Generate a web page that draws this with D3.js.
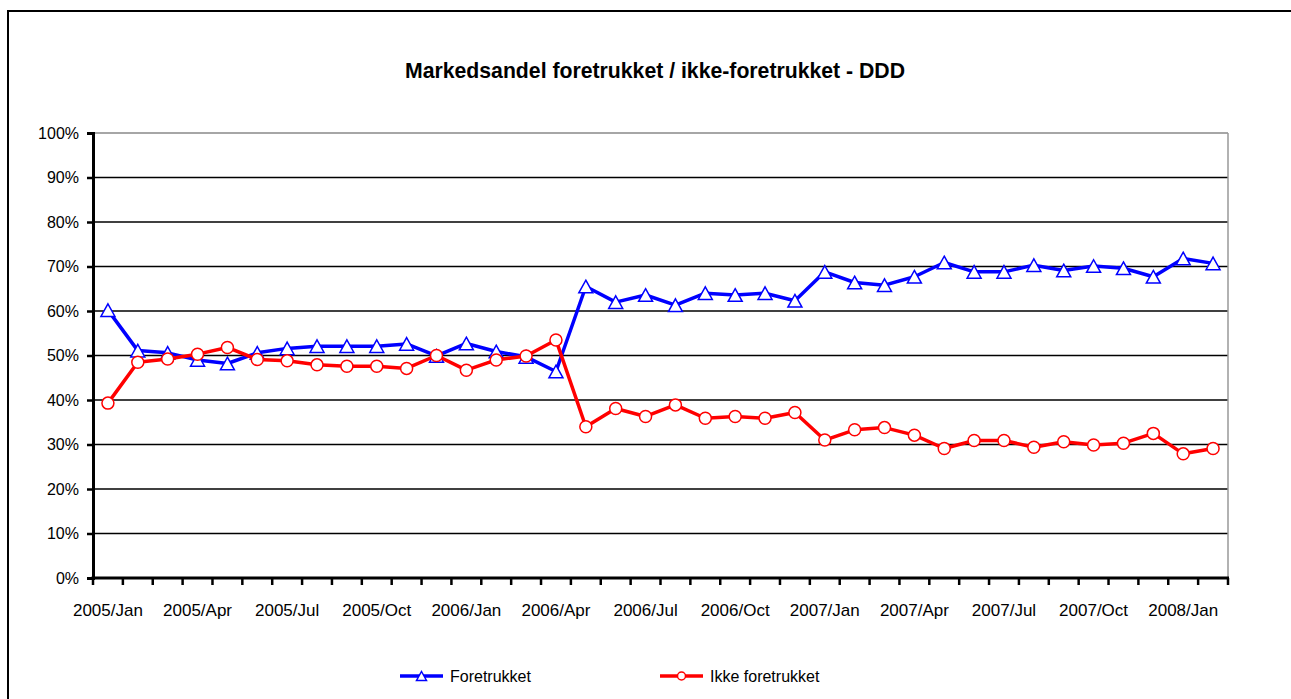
<!DOCTYPE html>
<meta charset="utf-8">
<script src="https://d3js.org/d3.v7.min.js"></script>
<style>
  body { margin: 0; background: #fff; }
  text { font-family: "Liberation Sans", Arial, sans-serif; fill: #000; }
</style>
<div id="chart"></div>
<script>
// months on the category axis
var months = ["2005/Jan","2005/Feb","2005/Mar","2005/Apr","2005/May","2005/Jun","2005/Jul","2005/Aug","2005/Sep","2005/Oct","2005/Nov","2005/Dec",
              "2006/Jan","2006/Feb","2006/Mar","2006/Apr","2006/May","2006/Jun","2006/Jul","2006/Aug","2006/Sep","2006/Oct","2006/Nov","2006/Dec",
              "2007/Jan","2007/Feb","2007/Mar","2007/Apr","2007/May","2007/Jun","2007/Jul","2007/Aug","2007/Sep","2007/Oct","2007/Nov","2007/Dec",
              "2008/Jan","2008/Feb"];
// only every third month gets a label
var shownLabels = ["2005/Jan","2005/Apr","2005/Jul","2005/Oct","2006/Jan","2006/Apr","2006/Jul","2006/Oct",
                   "2007/Jan","2007/Apr","2007/Jul","2007/Oct","2008/Jan"];
var yTicks = [0, 10, 20, 30, 40, 50, 60, 70, 80, 90, 100];

// market share in percent
var foretrukket = [60.2, 51.1, 50.6, 49.0, 48.2, 50.6, 51.6, 52.1, 52.1, 52.1, 52.6, 49.9, 52.7, 50.9, 49.7, 46.4,
                   65.5, 62.0, 63.6, 61.3, 64.0, 63.6, 64.0, 62.3, 68.8, 66.4, 65.8, 67.7, 70.9, 68.8, 68.8, 70.3,
                   69.1, 70.1, 69.6, 67.7, 71.8, 70.7];
var ikkeForetrukket = [39.3, 48.5, 49.2, 50.3, 51.8, 49.1, 48.8, 47.9, 47.6, 47.6, 47.1, 50.0, 46.7, 49.0, 49.9, 53.5,
                       34.0, 38.1, 36.3, 38.9, 35.9, 36.3, 35.9, 37.2, 31.0, 33.3, 33.8, 32.1, 29.1, 30.9, 30.9, 29.4,
                       30.6, 29.9, 30.3, 32.5, 27.9, 29.1];

var W = 1291, H = 699;
var plot = {left: 93, right: 1228, top: 133, bottom: 578};

var svg = d3.select("#chart").append("svg")
    .attr("width", W)
    .attr("height", H);

// outer frame (only top and left edges visible)
svg.append("path")
    .attr("d", "M8,699V11H1291")
    .attr("fill", "none")
    .attr("stroke", "#000")
    .attr("stroke-width", 2);

// title
svg.append("text")
    .attr("x", 655)
    .attr("y", 78)
    .attr("text-anchor", "middle")
    .attr("textLength", 500)
    .attr("lengthAdjust", "spacingAndGlyphs")
    .style("font-size", "22px")
    .style("font-weight", "bold")
    .text("Markedsandel foretrukket / ikke-foretrukket - DDD");

var x = d3.scaleBand()
    .domain(months)
    .range([plot.left, plot.right])
    .padding(0);

var y = d3.scaleLinear()
    .domain([0, 100])
    .range([plot.bottom, plot.top]);

// gridlines
svg.append("g")
  .selectAll("line")
  .data(yTicks.filter(function(d) { return d > 0; }))
  .enter().append("line")
    .attr("x1", plot.left)
    .attr("x2", plot.right)
    .attr("y1", function(d) { return y(d); })
    .attr("y2", function(d) { return y(d); })
    .attr("stroke", function(d) { return d == 100 ? "#888" : "#000"; })
    .attr("stroke-width", 1.6);

// right border of plot area
svg.append("line")
    .attr("x1", plot.right).attr("x2", plot.right)
    .attr("y1", plot.top).attr("y2", plot.bottom)
    .attr("stroke", "#999")
    .attr("stroke-width", 1.5);

// y axis
var yAxis = svg.append("g")
    .attr("transform", "translate(" + plot.left + ",0)")
    .call(d3.axisLeft(y).tickValues(yTicks).tickSize(6).tickPadding(8)
      .tickFormat(function(d) { return d + "%"; }));
yAxis.select(".domain").attr("stroke", "#000").attr("stroke-width", 3);
yAxis.selectAll(".tick line").attr("stroke", "#000").attr("stroke-width", 2.5);
yAxis.selectAll(".tick text")
    .style("font-size", "16px")
    .style("font-family", "'Liberation Sans', Arial, sans-serif")
    .attr("fill", "#000");

// x axis: ticks at category boundaries, labels under category centres
var xg = svg.append("g");
xg.append("line")
    .attr("x1", plot.left - 1.5).attr("x2", plot.right + 1)
    .attr("y1", plot.bottom).attr("y2", plot.bottom)
    .attr("stroke", "#000")
    .attr("stroke-width", 3);
xg.selectAll(".xtick")
  .data(months.concat(["end"]))
  .enter().append("line")
    .attr("class", "xtick")
    .attr("x1", function(d, i) { return plot.left + i * x.bandwidth(); })
    .attr("x2", function(d, i) { return plot.left + i * x.bandwidth(); })
    .attr("y1", plot.bottom)
    .attr("y2", plot.bottom + 7)
    .attr("stroke", "#000")
    .attr("stroke-width", 2.5);
xg.selectAll(".xlabel")
  .data(shownLabels)
  .enter().append("text")
    .attr("class", "xlabel")
    .attr("x", function(d) { return x(d) + x.bandwidth() / 2; })
    .attr("y", 616)
    .attr("text-anchor", "middle")
    .style("font-size", "17px")
    .text(function(d) { return d; });

// series
var series = [
  {name: "Foretrukket", values: foretrukket, color: "#0000ff", marker: "triangle"},
  {name: "Ikke foretrukket", values: ikkeForetrukket, color: "#ff0000", marker: "circle"}
];

var line = d3.line()
    .x(function(d, i) { return x(months[i]) + x.bandwidth() / 2; })
    .y(function(d) { return y(d); });

function triPath(s) {
  // triangle centred on its bounding box
  var h = s * 0.9;
  return "M0," + (-h / 2) + "L" + (s / 2) + "," + (h / 2) + "L" + (-s / 2) + "," + (h / 2) + "Z";
}

series.forEach(function(s) {
  svg.append("path")
      .datum(s.values)
      .attr("fill", "none")
      .attr("stroke", s.color)
      .attr("stroke-width", 3.5)
      .attr("stroke-linejoin", "round")
      .attr("d", line);

  var pts = svg.append("g").selectAll("g")
    .data(s.values)
    .enter().append("g")
      .attr("transform", function(d, i) {
        return "translate(" + (x(months[i]) + x.bandwidth() / 2) + "," + y(d) + ")";
      });
  if (s.marker == "triangle") {
    pts.append("path")
        .attr("d", triPath(14))
        .attr("fill", "#fff")
        .attr("stroke", s.color)
        .attr("stroke-width", 1.5);
  } else {
    pts.append("circle")
        .attr("r", 6)
        .attr("fill", "#fff")
        .attr("stroke", s.color)
        .attr("stroke-width", 1.5);
  }
});

// legend
var legend = svg.append("g")
  .selectAll("g")
  .data(series)
  .enter().append("g")
    .attr("transform", function(d, i) { return "translate(" + (400 + i * 260) + ",676)"; });

legend.append("line")
    .attr("x1", 0).attr("x2", 43)
    .attr("stroke", function(d) { return d.color; })
    .attr("stroke-width", 3.5);
legend.append("path")
    .attr("transform", "translate(21.5,0)")
    .attr("d", function(d) {
      return d.marker == "triangle" ? triPath(10) : d3.symbol().type(d3.symbolCircle).size(50)();
    })
    .attr("fill", "#fff")
    .attr("stroke", function(d) { return d.color; })
    .attr("stroke-width", 1.5);
legend.append("text")
    .attr("x", 50)
    .attr("y", 0)
    .attr("dy", "0.35em")
    .style("font-size", "16px")
    .text(function(d) { return d.name; });
</script>
